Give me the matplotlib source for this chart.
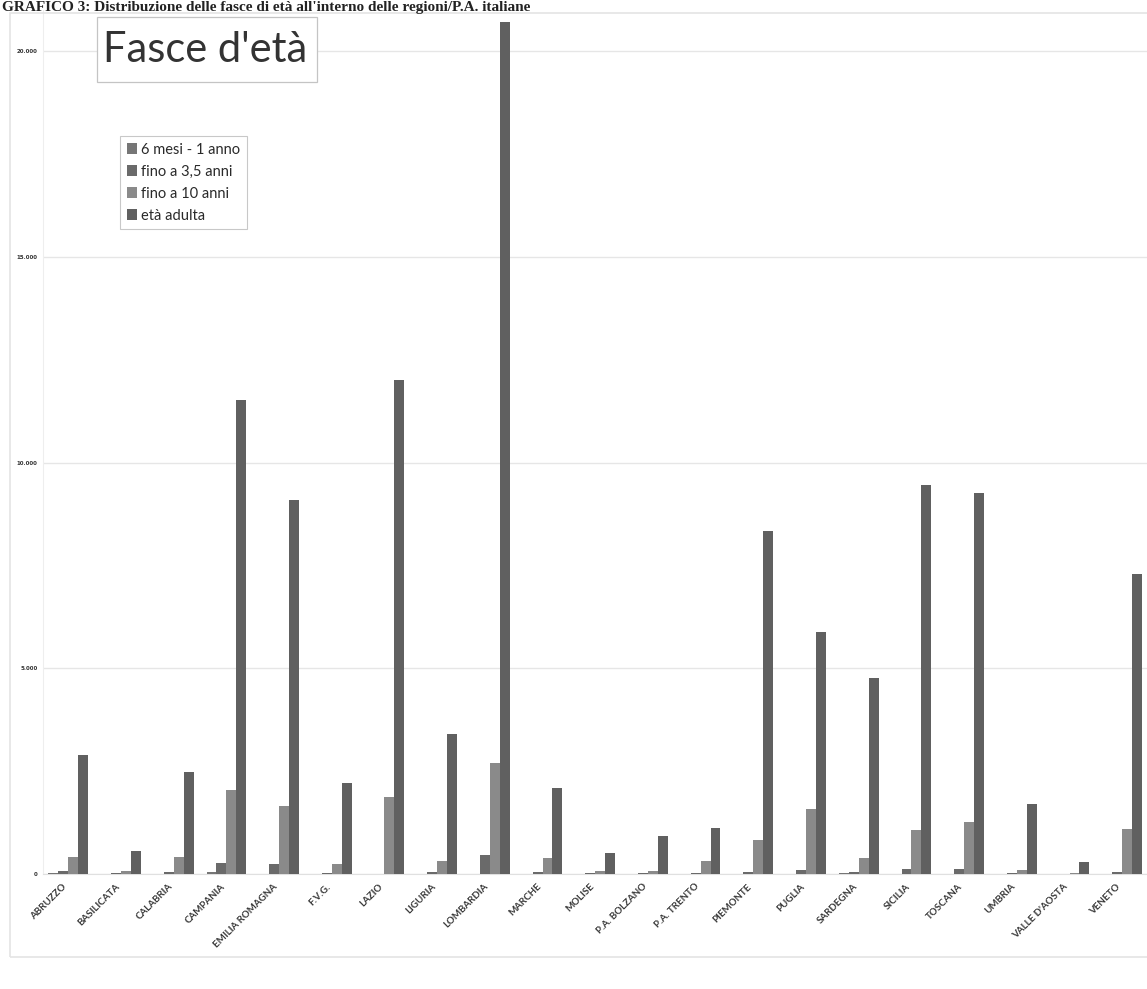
import matplotlib
matplotlib.use("Agg")
import matplotlib.pyplot as plt
import matplotlib.transforms as mtransforms
import numpy as np
from matplotlib.patches import Rectangle

regions = ["ABRUZZO", "BASILICATA", "CALABRIA", "CAMPANIA", "EMILIA ROMAGNA",
           "F.V.G.", "LAZIO", "LIGURIA", "LOMBARDIA", "MARCHE", "MOLISE",
           "P.A. BOLZANO", "P.A. TRENTO", "PIEMONTE", "PUGLIA", "SARDEGNA",
           "SICILIA", "TOSCANA", "UMBRIA", "VALLE D'AOSTA", "VENETO"]

series_names = ["6 mesi - 1 anno", "fino a 3,5 anni", "fino a 10 anni", "età adulta"]

mesi_6_1anno = [20, 0, 0, 40, 0, 0, 0, 0, 0, 0, 0, 0, 0, 5, 0, 15, 0, 0, 0, 0, 0]
fino_3_5 = [65, 15, 60, 275, 245, 25, 0, 40, 460, 40, 30, 25, 25, 55, 100, 40, 115, 115, 30, 0, 50]
fino_10 = [420, 65, 405, 2040, 1650, 245, 1870, 325, 2710, 380, 80, 80, 310, 830, 1580, 395, 1070, 1255, 100, 15, 1095]
eta_adulta = [2890, 550, 2480, 11520, 9090, 2210, 12000, 3400, 20700, 2080, 500, 920, 1110, 8340, 5890, 4760, 9450, 9260, 1695, 300, 7290]

y_ticks = [0, 5000, 10000, 15000, 20000]
y_ticklabels = ["0", "5.000", "10.000", "15.000", "20.000"]

colors = ["#767676", "#6a6a6a", "#8a8a8a", "#606060"]

W, H = 1147, 989
fig = plt.figure(figsize=(W / 100, H / 100), dpi=100)

def px_rect(x0, y0, x1, y1, **kw):
    return Rectangle((x0 / W, 1 - y1 / H), (x1 - x0) / W, (y1 - y0) / H,
                     transform=fig.transFigure, **kw)

# outer chart frame
fig.patches.append(px_rect(10, 13, W + 20, 957, fill=False, edgecolor="#e4e4e4", linewidth=1.2))

left_px, right_px, top_px, bot_px = 43, 1147, 10, 874
ax = fig.add_axes([left_px / W, 1 - bot_px / H, (right_px - left_px) / W, (bot_px - top_px) / H])

x = np.arange(len(regions))
bw = 0.188
data = [mesi_6_1anno, fino_3_5, fino_10, eta_adulta]
for i, (vals, c, nm) in enumerate(zip(data, colors, series_names)):
    ax.bar(x + (i - 1.5) * bw, vals, width=bw, color=c, label=nm, zorder=3)

ax.set_xlim(-0.48, 20.47)
ax.set_ylim(0, 21000)
ax.set_yticks(y_ticks)
ax.set_yticklabels(y_ticklabels, fontsize=4, color="#333333", fontweight="bold")
ax.yaxis.grid(True, color="#e6e6e6", linewidth=1.0, zorder=0)
ax.tick_params(axis="y", length=0, pad=4)
ax.tick_params(axis="x", length=0, pad=5)
ax.set_xticks(x)
ax.set_xticklabels(regions, rotation=45, ha="right", va="top", rotation_mode="anchor",
                   fontsize=7, family="Lato", fontweight="bold", color="#3a3a3a")
offset = mtransforms.ScaledTranslation(-6 / 100, -1 / 100, fig.dpi_scale_trans)
for lbl in ax.get_xticklabels():
    lbl.set_transform(lbl.get_transform() + offset)
for s in ["top", "right"]:
    ax.spines[s].set_visible(False)
ax.spines["left"].set_color("#eeeeee")
ax.spines["bottom"].set_color("#e0e0e0")

leg = ax.legend(loc="upper left", bbox_to_anchor=((120 - left_px) / (right_px - left_px),
                                                    1 - (136 - top_px) / (bot_px - top_px)),
                prop={"family": "Lato", "size": 10.5}, frameon=True, fancybox=False,
                handlelength=0.7, handleheight=0.7, handletextpad=0.3, borderpad=0.45,
                labelspacing=0.55, borderaxespad=0)
leg.get_frame().set_edgecolor("#bbbbbb")
leg.get_frame().set_linewidth(0.8)
for t in leg.get_texts():
    t.set_color("#2a2a2a")

# chart title box
fig.patches.append(px_rect(97, 17, 317, 82, facecolor="white", edgecolor="#c4c4c4", linewidth=0.9, zorder=5))
fig.text(103 / W, 1 - 50 / H, "Fasce d'età", fontsize=30, family="Lato", color="#333333",
         va="center", ha="left", zorder=6)

# document caption
fig.text(2 / W, 1 - 1 / H, "GRAFICO 3: Distribuzione delle fasce di età all'interno delle regioni/P.A. italiane",
         fontsize=11, family="Liberation Serif", fontweight="bold", color="#222222",
         va="top", ha="left")

fig.savefig("out.png", dpi=100, facecolor="white")
